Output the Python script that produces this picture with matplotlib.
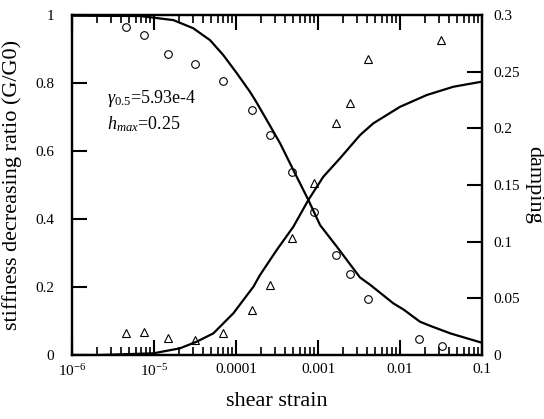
import numpy as np
import matplotlib
matplotlib.use("Agg")
import matplotlib.pyplot as plt
from matplotlib.ticker import LogLocator, NullFormatter, FixedLocator

# fontes parecidas com Times
plt.rcParams['font.family'] = ['Liberation Serif', 'DejaVu Serif']
plt.rcParams['mathtext.fontset'] = 'custom'
plt.rcParams['mathtext.rm'] = 'Liberation Serif'
plt.rcParams['mathtext.it'] = 'Liberation Serif:italic'

# dados de ensaio
strain_pts = [4.56e-6, 7.6e-6, 1.48e-5, 3.16e-5, 6.94e-5, 1.58e-4, 2.6e-4,
              4.86e-4, 8.93e-4, 1.66e-3, 2.46e-3, 4.03e-3, 1.69e-2, 3.22e-2]
g_pts = [0.964, 0.942, 0.886, 0.856, 0.806, 0.721, 0.648,
         0.538, 0.42, 0.294, 0.238, 0.164, 0.046, 0.027]

strain_h = [4.56e-6, 7.6e-6, 1.48e-5, 3.2e-5, 6.9e-5, 1.58e-4, 2.6e-4,
            4.86e-4, 8.9e-4, 1.66e-3, 2.46e-3, 4.03e-3, 3.19e-2]
h_pts = [0.0191, 0.020, 0.015, 0.0132, 0.0191, 0.0397, 0.062,
         0.1035, 0.1515, 0.205, 0.2226, 0.261, 0.278]

# curvas do modelo
strain_g_curve = [1e-6, 6.75e-6, 1.72e-5, 3.01e-5, 4.82e-5, 7.0e-5, 1.02e-4,
                  1.48e-4, 1.71e-4, 2.37e-4, 3.44e-4, 5.0e-4, 7.62e-4, 1.06e-3,
                  1.69e-3, 3.25e-3, 4.3e-3, 8.28e-3, 1.1e-2, 1.75e-2, 2.32e-2,
                  4.07e-2, 4.91e-2, 0.1]
g_curve = [0.998, 0.997, 0.985, 0.961, 0.926, 0.882, 0.829,
           0.774, 0.75, 0.691, 0.623, 0.544, 0.456, 0.382,
           0.319, 0.228, 0.207, 0.152, 0.134, 0.098, 0.086,
           0.064, 0.058, 0.036]

strain_h_curve = [1e-6, 2.19e-6, 9.8e-6, 2.07e-5, 3.32e-5, 5.29e-5, 9.27e-5,
                  1.63e-4, 1.96e-4, 3.13e-4, 5.0e-4, 7.62e-4, 1.16e-3, 1.85e-3,
                  3.25e-3, 4.72e-3, 1e-2, 2.12e-2, 4.47e-2, 0.1]
h_curve = [0.0, 0.0, 0.0015, 0.0059, 0.0118, 0.0191, 0.0368,
           0.0603, 0.0706, 0.0926, 0.1132, 0.1368, 0.1573, 0.1735,
           0.194, 0.2044, 0.219, 0.2294, 0.2367, 0.2412]

x_ticks = [1e-6, 1e-5, 1e-4, 1e-3, 1e-2, 1e-1]
x_labels = ['$10^{-6}$', '$10^{-5}$', '0.0001', '0.001', '0.01', '0.1']
yl_ticks = [0, 0.2, 0.4, 0.6, 0.8, 1.0]
yl_labels = ['0', '0.2', '0.4', '0.6', '0.8', '1']
yr_ticks = [0, 0.05, 0.1, 0.15, 0.2, 0.25, 0.3]
yr_labels = ['0', '0.05', '0.1', '0.15', '0.2', '0.25', '0.3']

fig = plt.figure(figsize=(5.44, 4.19), dpi=100)
ax = fig.add_axes([0.1324, 0.1527, 0.7537, 0.8115])
ax2 = ax.twinx()

ax.plot(strain_g_curve, g_curve, color='black', lw=1.6)
ax.plot(strain_pts, g_pts, 'o', mfc='none', mec='black', ms=5.5, mew=0.8)
ax2.plot(strain_h_curve, h_curve, color='black', lw=1.6)
ax2.plot(strain_h, h_pts, '^', mfc='none', mec='black', ms=5.5, mew=0.8)

ax.set_xscale('log')
ax.set_xlim(1e-6, 0.1)
ax.set_ylim(0, 1)
ax2.set_ylim(0, 0.3)

ax.xaxis.set_major_locator(FixedLocator(x_ticks))
ax.set_xticklabels(x_labels)
ax.xaxis.set_minor_locator(LogLocator(base=10, subs=np.arange(2, 10)))
ax.xaxis.set_minor_formatter(NullFormatter())
ax.set_yticks(yl_ticks)
ax.set_yticklabels(yl_labels)
ax2.set_yticks(yr_ticks)
ax2.set_yticklabels(yr_labels)

ax.tick_params(axis='x', which='major', direction='in', length=11, width=1.5,
               top=True, labelsize=11, pad=6)
ax.tick_params(axis='x', which='minor', direction='in', length=6, width=1.2,
               top=True)
ax.tick_params(axis='y', which='major', direction='in', length=11, width=1.5,
               labelsize=11, pad=13)
ax.tick_params(axis='y', which='minor', left=False)
ax2.tick_params(axis='y', which='major', direction='in', length=11, width=1.5,
                labelsize=11, pad=8)
for a in (ax, ax2):
    for s in a.spines.values():
        s.set_linewidth(1.6)

ax.set_xlabel('shear strain', fontsize=16, labelpad=9)
ax.set_ylabel('stiffness decreasing ratio (G/G0)', fontsize=16)
ax.yaxis.set_label_coords(-0.122, 0.5)
ax2.set_ylabel('damping', fontsize=16, rotation=270, va='center')
ax2.yaxis.set_label_coords(1.125, 0.5)

ax.text(2.7e-6, 0.74, r'$\gamma_{\rm 0.5}$=5.93e-4', fontsize=13)
ax.text(2.7e-6, 0.665, r'$h_{max}$=0.25', fontsize=13)

fig.savefig('out.png', dpi=100)
